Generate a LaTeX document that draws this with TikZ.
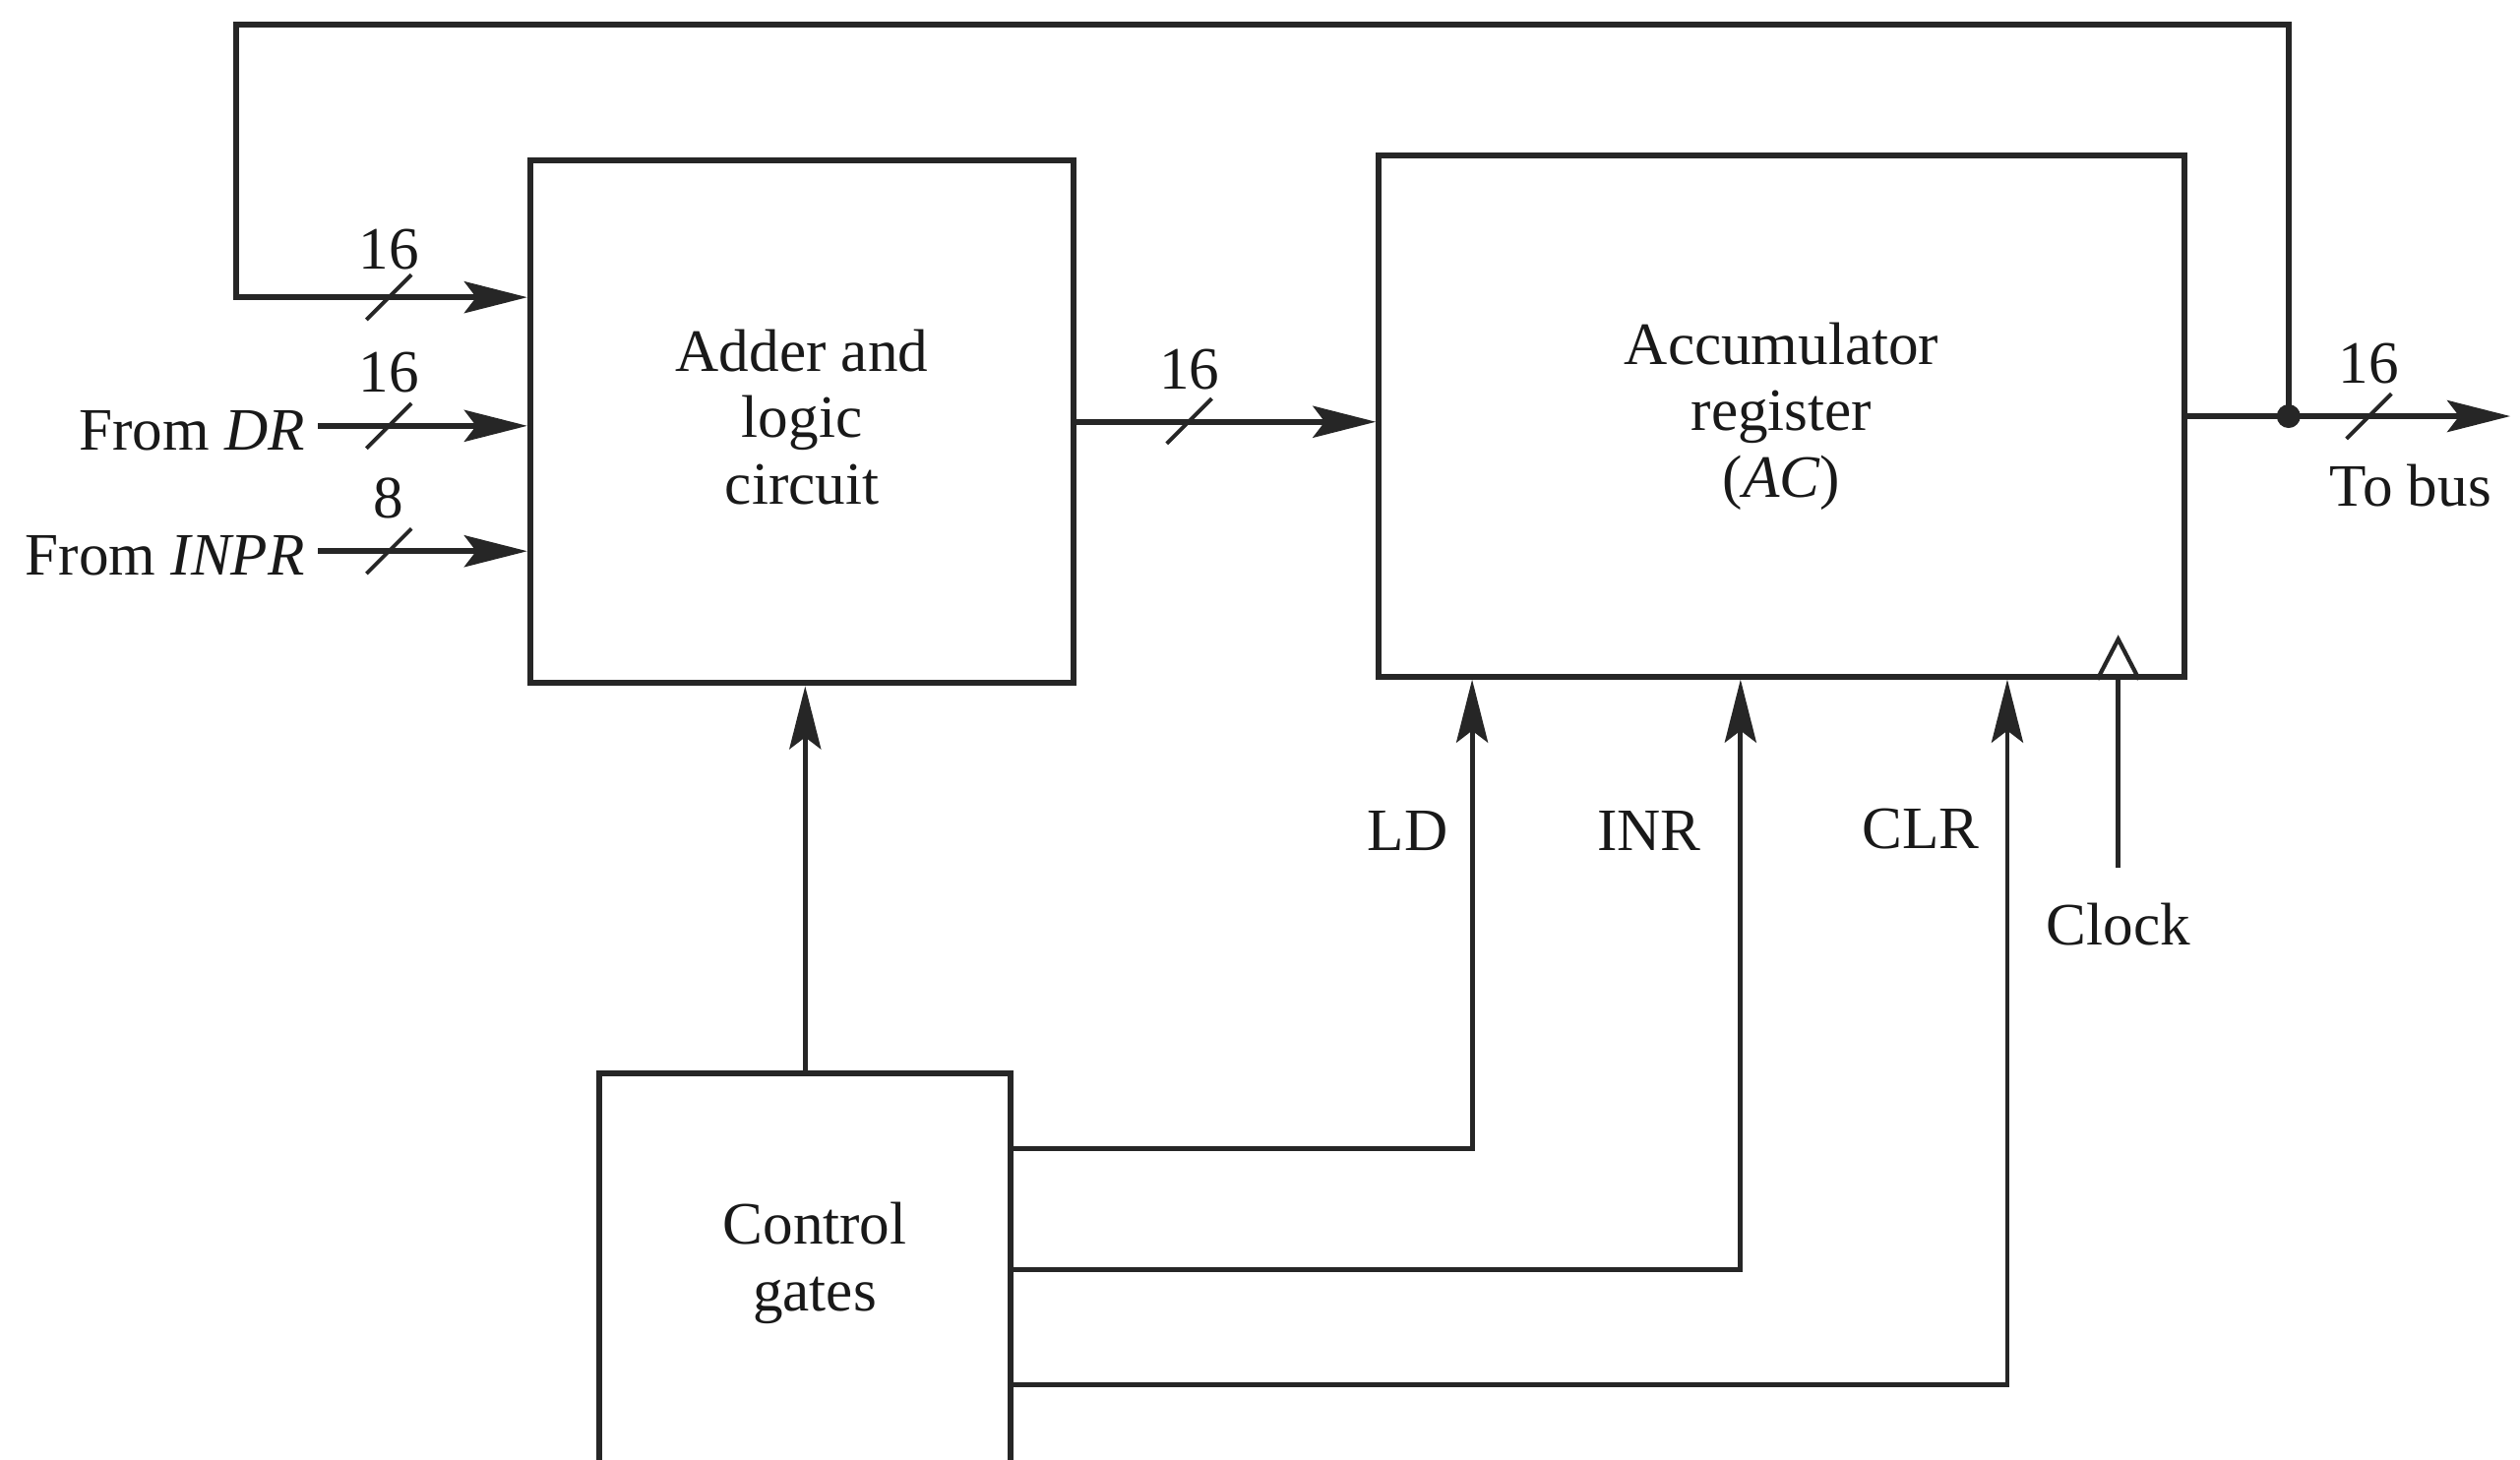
\documentclass[tikz,border=0pt]{standalone}
\usepackage{fontspec}
\setmainfont{Liberation Serif}
\usetikzlibrary{arrows.meta,calc}
\begin{document}
\begin{tikzpicture}[x=0.016333cm, y=-0.016333cm,
  every node/.style={font=\fontsize{17.4pt}{19.2pt}\selectfont, inner sep=0pt, text=black!90},
  box/.style={draw=black!85, line width=1.7pt, inner sep=0pt},
  wire/.style={draw=black!85, line width=1.7pt},
  sig/.style={draw=black!85, line width=1.4pt},
  arr/.style={wire, -{Stealth[length=0.64cm, width=0.32cm, inset=0.12cm]}},
  sarr/.style={sig, -{Stealth[length=0.64cm, width=0.32cm, inset=0.12cm]}},
  busmark/.style={draw=black!85, line width=1.1pt}]
\useasboundingbox (0,0) rectangle (1568,908);
\clip (0,0) rectangle (1568,908);
\fill[white] (0,0) rectangle (1568,908);

% blocks
\node[box, minimum width=5.52cm, minimum height=5.31cm] (adder) at (499,262.5) {};
\node[align=center] (addertxt) at (499,259.5) {Adder and\\logic\\circuit};
\node[box, minimum width=8.18cm, minimum height=5.29cm, align=center] (acc) at (1108.5,259) {Accumulator\\register\\(\textit{AC})};
\node[box, minimum width=4.18cm, minimum height=5.0cm] (ctrl) at (501,821) {};
\node[align=center] (ctrltxt) at (507,786) {Control\\gates};

% coordinates
\coordinate (J) at (1424,259);
\coordinate (out) at (1562,259);
\coordinate (fbR) at (1424,15);
\coordinate (fbL) at (147,15);
\coordinate (fbC) at (147,185);
\coordinate (drS) at (198,265);
\coordinate (inS) at (198,343);
\coordinate (ld) at (916,715);
\coordinate (inr) at (1083,790);
\coordinate (clr) at (1249,862);
\coordinate (clk) at (1318,540);

% data paths
\draw[arr] (acc.east) -- (out);
\draw[arr] (J) -- (fbR) -- (fbL) -- (fbC) -- (fbC -| adder.west);
\fill[black!85] (J) circle[radius=0.12cm];
\draw[arr] (drS) -- (drS -| adder.west);
\draw[arr] (inS) -- (inS -| adder.west);
\draw[arr] (adder.east) -- (adder.east -| acc.west);

% control paths
\draw[sarr] (ctrl.north) -- (ctrl.north |- adder.south);
\draw[sarr] (ld -| ctrl.east) -- (ld) -- (ld |- acc.south);
\draw[sarr] (inr -| ctrl.east) -- (inr) -- (inr |- acc.south);
\draw[sarr] (clr -| ctrl.east) -- (clr) -- (clr |- acc.south);
\draw[sig] (clk) -- (clk |- acc.south);
\draw[busmark, line width=1.2pt] ($(clk |- acc.south)+(-13,0)$) -- ($(clk |- acc.south)+(0,-25)$) -- ($(clk |- acc.south)+(13,0)$);

% bus width marks
\foreach \p in {(242,185),(242,265),(242,343),(740,262),(1474,259)}
  \draw[busmark] \p ++(-14,14) -- ++(28,-28);

% labels
\node (w1) at (242,155) {16};
\node (w2) at (242,232) {16};
\node (w3) at (242,310) {8};
\node (w4) at (740,230) {16};
\node (w5) at (1474,226) {16};
\node[anchor=east] (fdr) at (190,268) {From \textit{DR}};
\node[anchor=east] (finpr) at (190,346) {From \textit{INPR}};
\node (tobus) at (1500,302) {To bus};
\node (lld) at (876,517) {LD};
\node (linr) at (1026,517) {INR};
\node (lclr) at (1195,516) {CLR};
\node (lclk) at (1318,575) {Clock};
\end{tikzpicture}
\end{document}
